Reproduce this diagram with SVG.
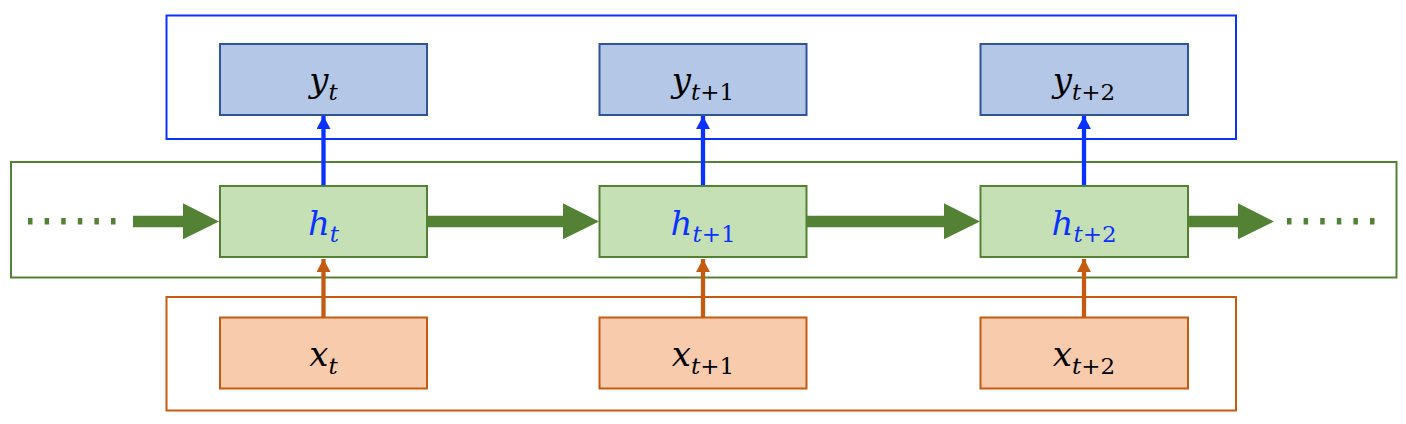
<svg xmlns="http://www.w3.org/2000/svg" width="1406" height="424" viewBox="0 0 1406 424">
<defs>
<style>
.outer{fill:none;stroke-width:2}
.yb{fill:#b4c7e7;stroke:#2f5597;stroke-width:2}
.hb{fill:#c5e0b4;stroke:#548235;stroke-width:2}
.xb{fill:#f8cbad;stroke:#c55a11;stroke-width:2}
.lbl{font-size:34px;text-anchor:middle}
.it{font-style:italic}
.sub{font-size:23px}
.up{font-style:normal}
.ga{fill:#548235}
.dot{fill:#548235}
.bl{stroke:#0a32ff;stroke-width:4.3;fill:none}
.or{stroke:#c55a11;stroke-width:4.3;fill:none}
</style>
<marker id="mb" markerUnits="userSpaceOnUse" markerWidth="14" markerHeight="14" refX="13" refY="7" orient="auto"><path d="M0,0 L13,7 L0,14 z" fill="#0a32ff"/></marker>
<marker id="mo" markerUnits="userSpaceOnUse" markerWidth="14" markerHeight="14" refX="13" refY="7" orient="auto"><path d="M0,0 L13,7 L0,14 z" fill="#c55a11"/></marker>
</defs>
<g id="output-layer"><rect class="outer" x="166.5" y="15.5" width="1069.5" height="123.5" stroke="#0a32ff"/></g>
<g id="hidden-layer"><rect class="outer" x="11" y="162" width="1385.5" height="115.5" stroke="#548235"/></g>
<g id="input-layer"><rect class="outer" x="166.5" y="297" width="1069.5" height="113.5" stroke="#c55a11"/></g>

<g id="connectors">
<polygon class="ga" points="133,215.7 183,215.7 183,203.3 219,221.5 183,239.3 183,227.3 133,227.3"/>
<polygon class="ga" points="427,215.7 563,215.7 563,203.3 599,221.5 563,239.3 563,227.3 427,227.3"/>
<polygon class="ga" points="807,215.7 944,215.7 944,203.3 980,221.5 944,239.3 944,227.3 807,227.3"/>
<polygon class="ga" points="1188,215.7 1238,215.7 1238,203.3 1274,221.5 1238,239.3 1238,227.3 1188,227.3"/>
<g id="dots-left">
<rect class="dot" x="28" y="218" width="4.5" height="6.5"/><rect class="dot" x="44.6" y="218" width="4.5" height="6.5"/><rect class="dot" x="61.2" y="218" width="4.5" height="6.5"/><rect class="dot" x="77.8" y="218" width="4.5" height="6.5"/><rect class="dot" x="94.4" y="218" width="4.5" height="6.5"/><rect class="dot" x="111" y="218" width="4.5" height="6.5"/>
</g>
<g id="dots-right">
<rect class="dot" x="1287" y="218" width="4.5" height="6.5"/><rect class="dot" x="1303.6" y="218" width="4.5" height="6.5"/><rect class="dot" x="1320.2" y="218" width="4.5" height="6.5"/><rect class="dot" x="1336.8" y="218" width="4.5" height="6.5"/><rect class="dot" x="1353.4" y="218" width="4.5" height="6.5"/><rect class="dot" x="1370" y="218" width="4.5" height="6.5"/>
</g>
<line class="bl" x1="323.5" y1="186" x2="323.5" y2="116" marker-end="url(#mb)"/>
<line class="bl" x1="703" y1="186" x2="703" y2="116" marker-end="url(#mb)"/>
<line class="bl" x1="1084" y1="186" x2="1084" y2="116" marker-end="url(#mb)"/>
<line class="or" x1="323.5" y1="317" x2="323.5" y2="259" marker-end="url(#mo)"/>
<line class="or" x1="703" y1="317" x2="703" y2="259" marker-end="url(#mo)"/>
<line class="or" x1="1084" y1="317" x2="1084" y2="259" marker-end="url(#mo)"/>
</g>

<g id="y1"><rect class="yb" x="220" y="44" width="207" height="71"/><text class="lbl" font-family="DejaVu Serif, serif" x="323.5" y="92"><tspan class="it">y</tspan><tspan class="sub it" dy="8">t</tspan></text></g>
<g id="y2"><rect class="yb" x="599.5" y="44" width="207" height="71"/><text class="lbl" font-family="DejaVu Serif, serif" x="703" y="92"><tspan class="it">y</tspan><tspan class="sub it" dy="8">t</tspan><tspan class="sub up">+1</tspan></text></g>
<g id="y3"><rect class="yb" x="980.5" y="44" width="207.5" height="71"/><text class="lbl" font-family="DejaVu Serif, serif" x="1084" y="92"><tspan class="it">y</tspan><tspan class="sub it" dy="8">t</tspan><tspan class="sub up">+2</tspan></text></g>

<g id="h1"><rect class="hb" x="220" y="186" width="207" height="71"/><text class="lbl" font-family="DejaVu Serif, serif" x="323.5" y="235" fill="#0a32ff"><tspan class="it">h</tspan><tspan class="sub it" dy="7">t</tspan></text></g>
<g id="h2"><rect class="hb" x="599.5" y="186" width="207" height="71"/><text class="lbl" font-family="DejaVu Serif, serif" x="703" y="235" fill="#0a32ff"><tspan class="it">h</tspan><tspan class="sub it" dy="7">t</tspan><tspan class="sub up">+1</tspan></text></g>
<g id="h3"><rect class="hb" x="980.5" y="186" width="207.5" height="71"/><text class="lbl" font-family="DejaVu Serif, serif" x="1084" y="235" fill="#0a32ff"><tspan class="it">h</tspan><tspan class="sub it" dy="7">t</tspan><tspan class="sub up">+2</tspan></text></g>

<g id="x1"><rect class="xb" x="220" y="317.5" width="207" height="71"/><text class="lbl" font-family="DejaVu Serif, serif" x="323.5" y="366"><tspan class="it">x</tspan><tspan class="sub it" dy="8">t</tspan></text></g>
<g id="x2"><rect class="xb" x="599.5" y="317.5" width="207" height="71"/><text class="lbl" font-family="DejaVu Serif, serif" x="703" y="366"><tspan class="it">x</tspan><tspan class="sub it" dy="8">t</tspan><tspan class="sub up">+1</tspan></text></g>
<g id="x3"><rect class="xb" x="980.5" y="317.5" width="207.5" height="71"/><text class="lbl" font-family="DejaVu Serif, serif" x="1084" y="366"><tspan class="it">x</tspan><tspan class="sub it" dy="8">t</tspan><tspan class="sub up">+2</tspan></text></g>
</svg>
